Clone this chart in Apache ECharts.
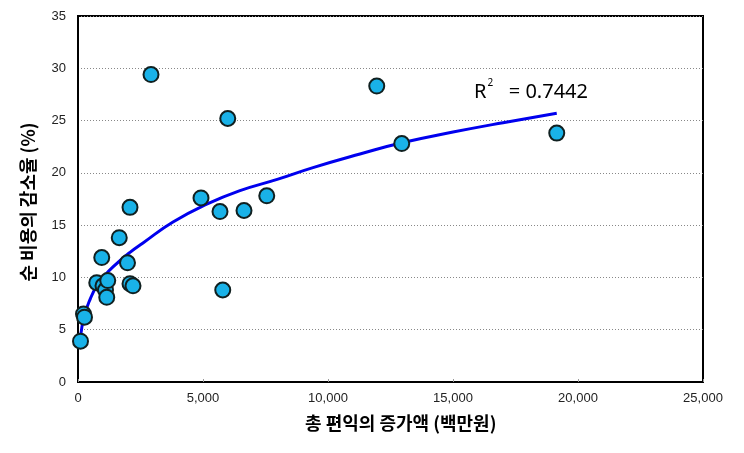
<!DOCTYPE html>
<html>
<head>
<meta charset="utf-8">
<script src="https://cdn.jsdelivr.net/npm/echarts@6/dist/echarts.min.js"></script>
<style>
html,body{margin:0;padding:0;background:#fff;}
#chart{width:744px;height:453px;}
</style>
</head>
<body>
<div id="chart"></div>
<script>
// Scatter data: total benefit increase (million won) vs. net cost reduction rate (%)
var benefitX = [100, 220, 260, 750, 950, 1000, 1100, 1150, 1190, 1650, 1980, 2080, 2080, 2200, 2920, 4920, 5680, 5790, 5990, 6640, 7550, 11950, 12950, 19150];
var reductionY = [3.9, 6.5, 6.2, 9.5, 11.9, 9.2, 8.8, 8.1, 9.7, 13.8, 11.4, 16.7, 9.4, 9.2, 29.4, 17.6, 16.3, 8.8, 25.2, 16.4, 17.8, 28.3, 22.8, 23.8];

// Trend curve
var trendX = [100, 250, 500, 750, 1000, 1400, 2080, 2600, 3800, 5150, 6480, 8000, 9400, 11280, 13000, 15000, 17000, 19150];
var trendY = [4.3, 6.3, 8.0, 9.2, 10.0, 11.0, 12.4, 13.3, 15.3, 17.0, 18.3, 19.4, 20.5, 21.8, 22.9, 23.9, 24.8, 25.7];

var xTicks = [0, 5000, 10000, 15000, 20000, 25000];
var yTicks = [0, 5, 10, 15, 20, 25, 30, 35];

var xTitle = '총 편익의 증가액 (백만원)';
var yTitle = '순 비용의 감소율 (%)';
var r2Label = '0.7442';

var scatterData = benefitX.map(function (x, i) { return [x, reductionY[i]]; });
var trendData = trendX.map(function (x, i) { return [x, trendY[i]]; });

var chart = echarts.init(document.getElementById('chart'), null, {renderer: 'canvas'});
var labelFont = '"Liberation Sans", "Noto Sans CJK KR", sans-serif';
chart.setOption({
  animation: false,
  backgroundColor: '#ffffff',
  grid: {
    left: 78, right: 41, top: 16, bottom: 71,
    show: true, borderColor: '#000', borderWidth: 2, backgroundColor: 'transparent'
  },
  xAxis: {
    type: 'value',
    min: xTicks[0], max: xTicks[xTicks.length - 1], interval: 5000,
    axisLine: {show: true, lineStyle: {color: '#000', width: 2}},
    axisTick: {show: true, inside: true, length: 3, lineStyle: {color: '#999'}},
    splitLine: {show: false},
    axisLabel: {
      color: '#222', fontSize: 13, fontFamily: labelFont, margin: 10,
      formatter: function (v) { return v.toLocaleString('en-US'); }
    }
  },
  yAxis: {
    type: 'value',
    min: yTicks[0], max: yTicks[yTicks.length - 1], interval: 5,
    axisLine: {show: true, lineStyle: {color: '#000', width: 2}},
    axisTick: {show: false},
    splitLine: {show: true, lineStyle: {color: '#888', type: [1, 2], width: 1}},
    axisLabel: {color: '#222', fontSize: 13, fontFamily: labelFont, margin: 12}
  },
  graphic: [
    {
      type: 'text', left: 305, top: 414,
      style: {
        text: xTitle, fill: '#000',
        font: 'bold 18px "Noto Sans CJK KR", sans-serif'
      }
    },
    {
      type: 'text', x: 28, y: 202, rotation: Math.PI / 2,
      style: {
        text: yTitle, fill: '#000', align: 'center', verticalAlign: 'middle',
        font: 'bold 18px "Noto Sans CJK KR", sans-serif'
      }
    },
    {
      type: 'text', left: 474, top: 78,
      style: {
        text: '{r|R}{s|2}{r|   = ' + r2Label + '}',
        rich: {
          r: {fontSize: 20, fontFamily: '"Noto Sans", sans-serif', fill: '#000', verticalAlign: 'bottom', lineHeight: 24},
          s: {fontSize: 10, fontFamily: '"Noto Sans", sans-serif', fill: '#000', verticalAlign: 'top', padding: [0, 0, 12, 1]}
        }
      }
    }
  ],
  series: [
    {
      type: 'line',
      data: trendData,
      smooth: true,
      showSymbol: false,
      symbol: 'none',
      lineStyle: {color: '#0000ee', width: 3},
      z: 3
    },
    {
      type: 'scatter',
      data: scatterData,
      symbol: 'circle',
      symbolSize: 15,
      itemStyle: {color: '#19b2e8', borderColor: '#102020', borderWidth: 2, opacity: 1},
      z: 4
    }
  ]
});
</script>
</body>
</html>
